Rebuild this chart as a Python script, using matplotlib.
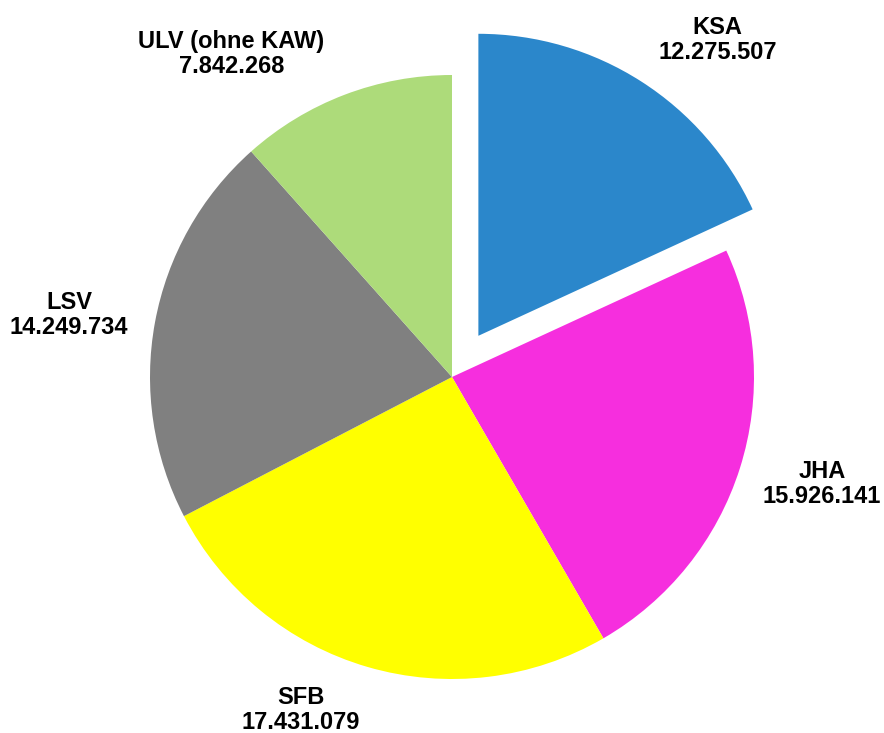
import matplotlib.pyplot as plt

plt.rcParams["font.family"] = ["Liberation Sans", "DejaVu Sans"]

categories = ["KSA", "JHA", "SFB", "LSV", "ULV (ohne KAW)"]
values = [12275507, 15926141, 17431079, 14249734, 7842268]
colors = ["#2B87CB", "#F62EDE", "#FFFF00", "#808080", "#ADDB7A"]
explode = [0.162, 0, 0, 0, 0]

# label centres, in units of the pie radius (pie centre at 0, 0)
label_pos = [(0.879, 1.116), (1.225, -0.354), (-0.500, -1.103),
             (-1.268, 0.205), (-0.730, 1.070)]


def fmt(v):
    return f"{v:,}".replace(",", ".")


fig = plt.figure(figsize=(8.84, 7.33), dpi=100)
ax = fig.add_axes([0, 0, 1, 1])

ax.pie(values, colors=colors, explode=explode, startangle=90,
       counterclock=False, radius=1.0, wedgeprops=dict(linewidth=0))

for name, v, (x, y) in zip(categories, values, label_pos):
    ax.text(x, y, f"{name}\n{fmt(v)}", ha="center", va="center",
            fontsize=17, fontweight="bold", linespacing=1.15)

cx, cy, r = 452, 377, 302
ax.set_xlim(-cx / r, (884 - cx) / r)
ax.set_ylim(-(733 - cy) / r, cy / r)
ax.set_aspect("equal", adjustable="box")
ax.axis("off")

fig.savefig("out.png", dpi=100)
